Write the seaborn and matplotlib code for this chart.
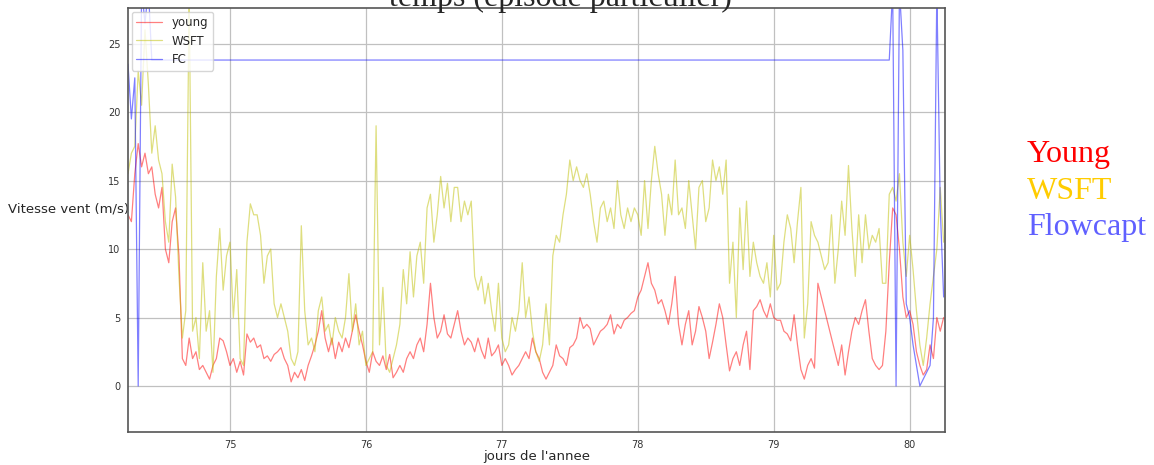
import numpy as np
import pandas as pd
import seaborn as sns
import matplotlib
matplotlib.use("Agg")
import matplotlib.pyplot as plt

# time grid: one reading every 0.025 day starting at day 74.25
start_day = 74.25
step_day = 0.025

young = [
    12.5, 12.0, 15.5, 17.7, 16.0, 17.0, 15.5, 16.0, 14.0, 13.0,
    14.5, 10.0, 9.0, 12.0, 13.0, 9.5, 2.0, 1.5, 3.5, 2.0,
    2.5, 1.2, 1.5, 1.0, 0.5, 1.5, 2.0, 3.5, 3.3, 2.5,
    1.5, 2.0, 1.0, 1.8, 0.8, 3.8, 3.2, 3.5, 2.8, 3.0,
    2.0, 2.2, 1.8, 2.3, 2.5, 2.8, 2.0, 1.5, 0.3, 1.0,
    0.6, 1.2, 0.4, 1.5, 2.2, 3.0, 4.0, 5.5, 3.5, 2.5,
    3.5, 2.0, 3.2, 2.5, 3.5, 2.8, 4.0, 5.2, 4.0, 3.0,
    1.8, 1.0, 2.5, 1.8, 1.5, 2.2, 1.2, 2.3, 0.6, 1.0,
    1.5, 1.0, 2.0, 2.5, 2.0, 3.0, 3.5, 2.5, 4.5, 7.5,
    5.0, 3.5, 4.0, 5.2, 3.8, 3.5, 4.5, 5.5, 4.0, 3.0,
    3.5, 3.2, 2.5, 3.5, 2.6, 2.0, 3.5, 2.2, 2.5, 3.0,
    1.5, 2.0, 1.5, 0.8, 1.2, 1.5, 2.0, 2.5, 2.0, 3.5,
    2.5, 2.0, 1.0, 0.5, 1.0, 1.5, 3.0, 2.2, 2.0, 1.5,
    2.8, 3.0, 3.5, 5.0, 4.2, 4.5, 4.2, 3.0, 3.5, 4.0,
    4.2, 4.5, 5.2, 3.8, 4.5, 4.2, 4.8, 5.0, 5.3, 5.5,
    6.5, 7.0, 8.0, 9.0, 7.5, 7.0, 6.0, 6.3, 5.5, 4.5,
    6.0, 8.0, 4.5, 3.0, 4.5, 5.5, 3.0, 4.0, 5.8, 5.0,
    4.0, 2.0, 3.2, 4.5, 6.0, 5.0, 3.0, 1.1, 2.0, 2.5,
    1.5, 3.0, 4.0, 1.2, 5.5, 5.8, 6.3, 5.5, 5.0, 6.0,
    5.0, 4.8, 4.8, 4.0, 3.8, 3.3, 5.2, 3.0, 1.2, 0.5,
    1.5, 2.0, 1.3, 7.5, 6.5, 5.5, 4.5, 3.5, 2.5, 1.5,
    3.0, 0.8, 2.5, 4.0, 5.0, 4.5, 5.5, 6.3, 4.0, 2.0,
    1.5, 1.2, 1.5, 4.0, 9.0, 13.0, 12.5, 10.0, 6.5, 5.0,
    5.5, 4.5, 2.5, 1.5, 0.8, 1.2, 3.0, 2.0, 5.0, 4.0,
    5.0,
]

wsft = [
    15.5, 17.0, 17.5, 23.0, 20.5, 26.0, 22.0, 17.0, 19.0, 16.5,
    15.5, 12.0, 10.5, 16.2, 13.8, 8.0, 3.5, 5.5, 28.5, 4.0,
    5.0, 2.0, 9.0, 4.0, 5.5, 1.0, 8.0, 11.5, 7.0, 9.5,
    10.5, 5.0, 8.5, 2.0, 1.5, 10.5, 13.3, 12.5, 12.5, 11.0,
    7.5, 9.5, 10.0, 6.0, 5.0, 6.0, 5.0, 4.0, 2.0, 1.5,
    2.5, 11.7, 5.5, 3.0, 3.5, 2.5, 5.5, 6.5, 4.0, 4.5,
    3.0, 5.0, 4.0, 3.5, 5.0, 8.2, 4.0, 6.0, 3.0, 4.0,
    1.5, 2.0, 2.5, 19.0, 3.0, 7.2, 1.5, 1.0, 2.0, 3.0,
    4.5, 8.5, 6.0, 9.8, 6.5, 9.5, 10.5, 7.5, 13.0, 14.0,
    10.5, 12.5, 15.3, 13.0, 14.8, 12.0, 14.5, 14.5, 12.0, 13.5,
    12.5, 13.5, 8.0, 7.0, 8.0, 6.0, 7.5, 5.5, 4.0, 7.5,
    3.5, 2.5, 3.0, 5.0, 4.0, 5.5, 9.0, 5.0, 6.5, 4.0,
    2.5, 1.8, 3.0, 6.0, 3.0, 9.5, 11.0, 10.5, 12.5, 14.0,
    16.5, 15.0, 16.0, 15.0, 14.5, 15.5, 14.0, 12.0, 10.5, 13.0,
    13.5, 12.0, 13.0, 11.5, 15.0, 12.5, 11.5, 13.0, 12.0, 13.0,
    12.5, 11.0, 15.0, 11.5, 15.0, 17.5, 15.5, 14.0, 11.0, 14.0,
    12.5, 16.5, 12.5, 13.0, 11.5, 15.0, 12.5, 10.0, 14.5, 15.0,
    12.0, 13.0, 16.5, 15.0, 16.0, 14.0, 16.5, 7.5, 10.5, 5.0,
    13.0, 8.5, 13.5, 8.0, 10.5, 9.0, 8.0, 7.5, 9.0, 6.5,
    11.0, 7.0, 7.5, 10.5, 12.5, 11.5, 9.0, 12.0, 14.5, 3.5,
    6.0, 12.0, 11.0, 10.5, 9.5, 8.5, 9.0, 12.5, 7.5, 10.0,
    13.5, 11.0, 16.1, 11.5, 8.0, 12.5, 9.0, 12.5, 10.0, 11.0,
    10.5, 11.5, 7.5, 7.5, 14.0, 14.5, 13.5, 15.5, 10.5, 8.0,
    11.0, 8.5, 5.5, 3.0, 1.5, 3.5, 6.0, 8.0, 10.0, 14.5,
    10.5,
]

# Flowcapt: noisy start, then stuck at a constant value, then noisy end
fc_start = [23.5, 19.5, 22.5, 0.0, 29.0, 26.5, 29.0]
fc_stuck = [23.8] * 218
fc_end = [29.0, 0.0, 29.0, 24.5, 6.0, 5.0, 3.0, 1.5, 0.0, 0.5,
          1.0, 1.5, 5.0, 29.0, 13.0, 6.5]
fc = fc_start + fc_stuck + fc_end

days = start_day + step_day * np.arange(len(young))

df = pd.DataFrame({"jour": days, "young": young, "WSFT": wsft, "FC": fc})

sns.set_style("whitegrid", {"grid.color": "#c0c0c0", "axes.edgecolor": "#555555"})
plt.rcParams["font.family"] = ["DejaVu Sans"]

fig = plt.figure(figsize=(11.54, 4.65), dpi=100)
ax = fig.add_axes([128 / 1154, 33 / 465, 817 / 1154, 424 / 465])

sns.lineplot(data=df, x="jour", y="young", ax=ax, color="red", alpha=0.5,
             linewidth=0.9, label="young", estimator=None)
sns.lineplot(data=df, x="jour", y="WSFT", ax=ax, color="y", alpha=0.5,
             linewidth=0.9, label="WSFT", estimator=None)
sns.lineplot(data=df, x="jour", y="FC", ax=ax, color="blue", alpha=0.5,
             linewidth=0.9, label="FC", estimator=None)

ax.set_xlim(74.25, 80.26)
ax.set_ylim(-3.36, 27.6)
ax.set_xticks([75, 76, 77, 78, 79, 80])
ax.set_yticks([0, 5, 10, 15, 20, 25])
ax.tick_params(labelsize=7, colors="#333333", pad=2)
ax.grid(True, linewidth=0.9)
for s in ax.spines.values():
    s.set_linewidth(1.2)

ax.set_xlabel("jours de l'annee", fontsize=9.5)
ax.set_ylabel("Vitesse vent (m/s)", fontsize=9.5, rotation=0)
ax.yaxis.set_label_coords(-0.073, 0.51)
ax.xaxis.set_label_coords(0.5, -0.042)

ax.legend(loc="upper left", fontsize=8.5, frameon=True, borderaxespad=0.3,
          handlelength=2.2, labelspacing=0.45)

# title sits partly above the figure edge, as in the original
fig.text(560 / 1154, 1 - 6 / 465, "temps (épisode particulier)",
         family="Liberation Serif", fontsize=23, ha="center", va="baseline")

fig.text(1027 / 1154, 1 - 162 / 465, "Young", family="Liberation Serif",
         fontsize=23, color="#ff0000", va="baseline")
fig.text(1027 / 1154, 1 - 199 / 465, "WSFT", family="Liberation Serif",
         fontsize=23, color="#ffcc00", va="baseline")
fig.text(1027 / 1154, 1 - 235 / 465, "Flowcapt", family="Liberation Serif",
         fontsize=23, color="#6060ff", va="baseline")

fig.savefig("out.png", dpi=100)
